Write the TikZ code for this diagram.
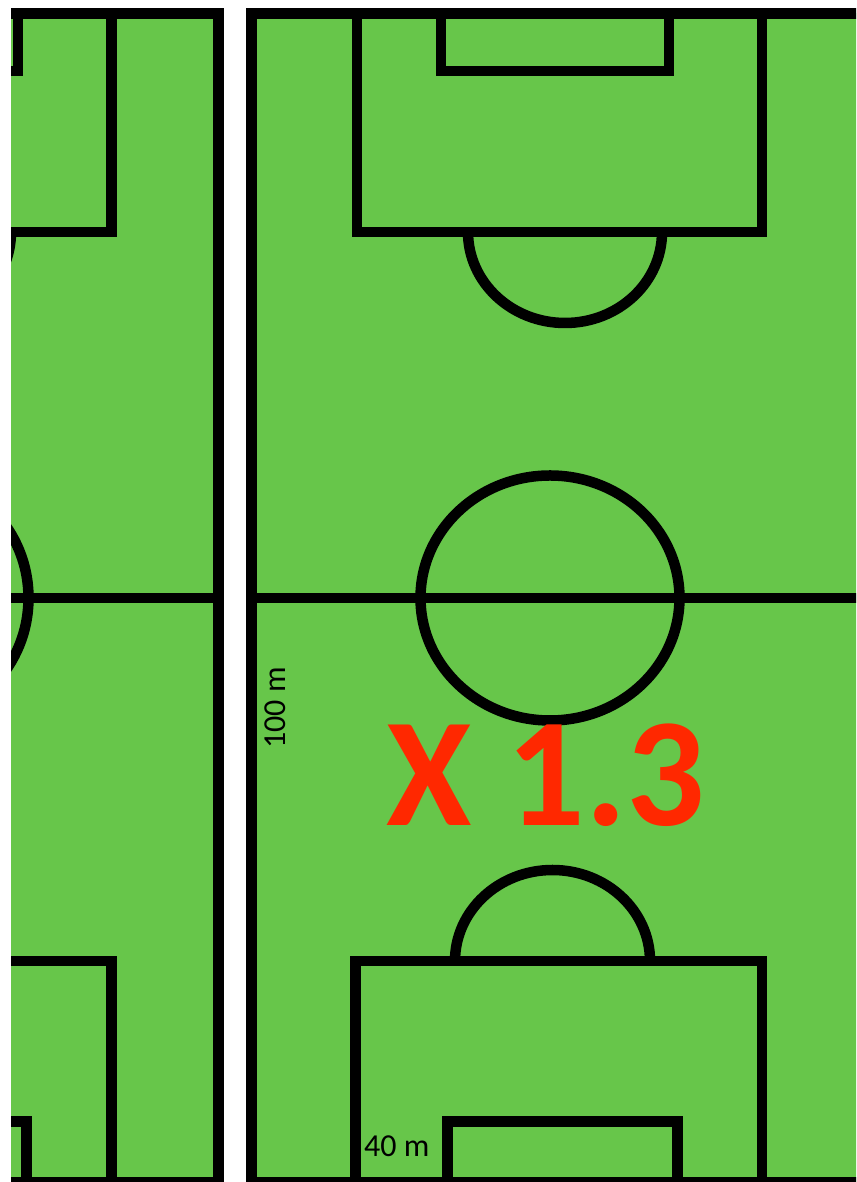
\documentclass[tikz,border=0pt]{standalone}
\usepackage{fontspec}
\setmainfont{Carlito}
\definecolor{turf}{RGB}{103,198,74}
\definecolor{scarlet}{RGB}{255,40,0}
\tikzset{
  pitchline/.style={line width=10.5pt, black},
  marklabel/.style={font=\fontsize{32}{34}\selectfont, inner sep=0pt}
}
\begin{document}
\begin{tikzpicture}[x=1pt, y=1pt]
  \useasboundingbox (0,0) rectangle (856,1182);

  % ---- Left panel: cropped pitch ----
  \begin{scope}
    \clip (11,0) rectangle (232,1182);
    \fill[turf] (11,0) rectangle (218.5,1168.5);
    \draw[pitchline] (-10,1168.5) -- (218.5,1168.5) -- (218.5,-10);
    \draw[pitchline] (-10,584) -- (218.5,584);
    \draw[pitchline] (-10,0) -- (218.5,0);
    \draw[pitchline] (-10,1111) -- (18,1111) -- (18,1168.5);
    \draw[pitchline] (-10,950) -- (111.5,950) -- (111.5,1168.5);
    \draw[pitchline] (-10,221) -- (111.5,221) -- (111.5,-10);
    \draw[pitchline] (-10,60.5) -- (26.5,60.5) -- (26.5,-10);
    \draw[pitchline] (-90,584) ellipse [x radius=118.5pt, y radius=122.5pt];
    \draw[pitchline] (11,950) arc [start angle=0, end angle=-180, x radius=97pt, y radius=91pt];
  \end{scope}

  % ---- Right panel: full-width pitch ----
  \begin{scope}
    \clip (240,0) rectangle (856,1182);
    \fill[turf] (251.5,0) rectangle (870,1168.5);
    \draw[pitchline] (251.5,-10) -- (251.5,1168.5) -- (870,1168.5);
    \draw[pitchline] (251.5,584) -- (870,584);
    \draw[pitchline] (251.5,0) -- (870,0);
    % top end
    \draw[pitchline] (441,1168.5) -- (441,1111) -- (669,1111) -- (669,1168.5);
    \draw[pitchline] (357,1168.5) -- (357,950) -- (762,950) -- (762,1168.5);
    \draw[pitchline] (662,950) arc [start angle=0, end angle=-180, x radius=97pt, y radius=91pt];
    % centre
    \draw[pitchline] (550,584) ellipse [x radius=129.5pt, y radius=122.5pt];
    % bottom end
    \draw[pitchline] (455,221) arc [start angle=180, end angle=0, x radius=97.5pt, y radius=91pt];
    \draw[pitchline] (355.5,-10) -- (355.5,221) -- (762,221) -- (762,-10);
    \draw[pitchline] (447.5,-10) -- (447.5,60.5) -- (677.5,60.5) -- (677.5,-10);
  \end{scope}

  % ---- Labels ----
  \node[marklabel, rotate=90, anchor=base west] (length) at (285,433) {100 m};
  \node[marklabel, anchor=base west] (width) at (364,25) {40 m};
  \node[font=\fontsize{155}{160}\selectfont\bfseries, text=scarlet, inner sep=0pt, anchor=base west] (factor) at (386,356) {X 1.3};
\end{tikzpicture}
\end{document}
